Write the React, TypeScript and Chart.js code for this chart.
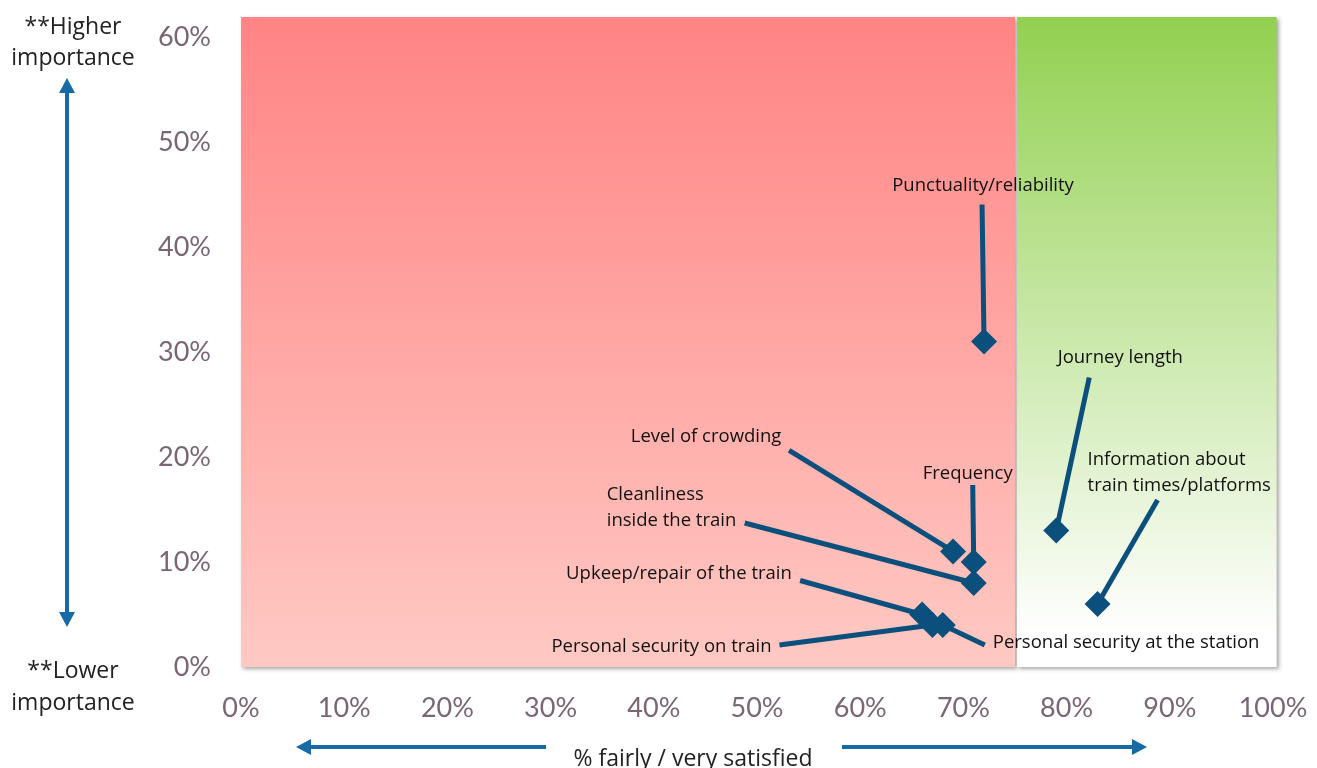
import React, { useEffect, useRef } from "react";
import { Chart, registerables } from "chart.js";

Chart.register(...registerables);

// ---------- data ----------
const itemNames: string[] = [
  "Punctuality/reliability",
  "Journey length",
  "Information about\ntrain times/platforms",
  "Level of crowding",
  "Frequency",
  "Cleanliness\ninside the train",
  "Upkeep/repair of the train",
  "Personal security on train",
  "Personal security at the station",
];
const satisfied: number[] = [0.72, 0.79, 0.83, 0.69, 0.71, 0.71, 0.66, 0.67, 0.68];
const importance: number[] = [0.31, 0.13, 0.06, 0.11, 0.1, 0.08, 0.05, 0.04, 0.04];
const xTickValues: number[] = [0, 0.1, 0.2, 0.3, 0.4, 0.5, 0.6, 0.7, 0.8, 0.9, 1.0];
const yTickValues: number[] = [0, 0.1, 0.2, 0.3, 0.4, 0.5, 0.6];
const xAxisTitle = "% fairly / very satisfied";
const yTopText = ["**Higher", "importance"];
const yBottomText = ["**Lower", "importance"];

// ---------- layout / style (not data) ----------
// label text offset (tx, ty) and leader-line start offset (lx, ly), pixels relative to the point
const labelLayout = [
  { tx: -1, ty: -156, align: "center", lx: -2, ly: -137 },
  { tx: 64, ty: -173, align: "center", lx: 33, ly: -153 },
  { tx: -10, ty: -144, align: "left", lx: 60, ly: -104 },
  { tx: -247, ty: -115, align: "center", lx: -164, ly: -101 },
  { tx: -6, ty: -88, align: "center", lx: -1, ly: -77 },
  { tx: -367, ty: -88, align: "left", lx: -229, ly: -60 },
  { tx: -356, ty: -41, align: "left", lx: -122, ly: -34 },
  { tx: -381, ty: 22, align: "left", lx: -153, ly: 20 },
  { tx: 50, ty: 18, align: "left", lx: 42, ly: 20 },
];
const zones = [
  { x0: 0, x1: 0.75, stops: [[0, "#FF8484"], [1, "#FFC9C3"]] },
  { x0: 0.752, x1: 1.0035, stops: [[0, "#92D050"], [0.95, "#FFFFFF"], [1, "#FFFFFF"]] },
];
const TICK_FONT = "Lato";
const TEXT_FONT = "'Open Sans'";
const MARK = "#0B4F7C";
const ARROW = "#166AA6";
const TICK = "#7B6574";

function arrowHead(ctx: CanvasRenderingContext2D, x: number, y: number, dx: number, dy: number) {
  const len = 15, half = 8;
  const bx = x - dx * len, by = y - dy * len;
  ctx.beginPath();
  ctx.moveTo(x, y);
  ctx.lineTo(bx - dy * half, by + dx * half);
  ctx.lineTo(bx + dy * half, by - dx * half);
  ctx.closePath();
  ctx.fill();
}

const decorPlugin = {
  id: "decor",
  beforeDatasetsDraw(chart: any) {
    const ctx: CanvasRenderingContext2D = chart.ctx;
    const xs = chart.scales.x;
    const top = chart.chartArea.top, bottom = chart.chartArea.bottom;
    zones.forEach((z) => {
      const l = xs.getPixelForValue(z.x0), r = xs.getPixelForValue(z.x1);
      const g = ctx.createLinearGradient(0, top, 0, bottom);
      z.stops.forEach((s: any) => g.addColorStop(s[0], s[1]));
      ctx.save();
      ctx.shadowColor = "rgba(0,0,0,0.35)";
      ctx.shadowBlur = 4;
      ctx.shadowOffsetX = 2;
      ctx.shadowOffsetY = 2;
      ctx.fillStyle = g;
      ctx.fillRect(l, top, r - l, bottom - top);
      ctx.restore();
    });
    const meta = chart.getDatasetMeta(0);
    ctx.save();
    ctx.strokeStyle = MARK;
    ctx.lineWidth = 5;
    meta.data.forEach((pt: any, i: number) => {
      const L = labelLayout[i];
      ctx.beginPath();
      ctx.moveTo(pt.x + L.lx, pt.y + L.ly);
      ctx.lineTo(pt.x, pt.y);
      ctx.stroke();
    });
    ctx.restore();
  },
  afterDatasetsDraw(chart: any) {
    const ctx: CanvasRenderingContext2D = chart.ctx;
    const meta = chart.getDatasetMeta(0);
    ctx.save();
    ctx.fillStyle = "#111111";
    ctx.font = `18.5px ${TEXT_FONT}`;
    ctx.textBaseline = "middle";
    meta.data.forEach((pt: any, i: number) => {
      const L = labelLayout[i];
      ctx.textAlign = L.align as CanvasTextAlign;
      itemNames[i].split("\n").forEach((line, k) => {
        ctx.fillText(line, pt.x + L.tx, pt.y + L.ty + k * 26);
      });
    });
    ctx.restore();
  },
  afterDraw(chart: any) {
    const ctx: CanvasRenderingContext2D = chart.ctx;
    const ca = chart.chartArea;
    ctx.save();
    ctx.fillStyle = "#222222";
    ctx.font = `23px ${TEXT_FONT}`;
    ctx.textAlign = "center";
    ctx.textBaseline = "middle";
    const lx = 73;
    ctx.fillText(yTopText[0], lx, ca.top + 10);
    ctx.fillText(yTopText[1], lx, ca.top + 41);
    ctx.fillText(yBottomText[0], lx, ca.bottom + 4);
    ctx.fillText(yBottomText[1], lx, ca.bottom + 36);
    ctx.strokeStyle = ARROW;
    ctx.fillStyle = ARROW;
    ctx.lineWidth = 4;
    const ax = 67, ay0 = ca.top + 61, ay1 = ca.bottom - 40;
    ctx.beginPath();
    ctx.moveTo(ax, ay0 + 10);
    ctx.lineTo(ax, ay1 - 10);
    ctx.stroke();
    arrowHead(ctx, ax, ay0, 0, -1);
    arrowHead(ctx, ax, ay1, 0, 1);
    const hy = ca.bottom + 80;
    const lt = 296, le = 546, rs = 842, rt = 1147;
    ctx.beginPath();
    ctx.moveTo(lt + 10, hy);
    ctx.lineTo(le, hy);
    ctx.moveTo(rs, hy);
    ctx.lineTo(rt - 10, hy);
    ctx.stroke();
    arrowHead(ctx, lt, hy, -1, 0);
    arrowHead(ctx, rt, hy, 1, 0);
    ctx.fillStyle = "#222222";
    ctx.font = `23px ${TEXT_FONT}`;
    ctx.textAlign = "center";
    ctx.textBaseline = "middle";
    ctx.fillText(xAxisTitle, 693, ca.bottom + 92);
    ctx.restore();
  },
};

export default function App() {
  const canvasRef = useRef<HTMLCanvasElement | null>(null);

  useEffect(() => {
    if (!canvasRef.current) return;
    const chart = new Chart(canvasRef.current, {
      type: "scatter",
      data: {
        datasets: [
          {
            label: "Items",
            data: satisfied.map((x, i) => ({ x, y: importance[i] })),
            pointStyle: "rectRot",
            pointRadius: 13,
            pointHoverRadius: 13,
            backgroundColor: MARK,
            borderColor: MARK,
            borderWidth: 0,
          },
        ],
      },
      options: {
        animation: false,
        responsive: true,
        maintainAspectRatio: false,
        events: [],
        layout: { padding: { left: 150, top: 17, right: 44, bottom: 0 } },
        plugins: { legend: { display: false }, tooltip: { enabled: false } },
        scales: {
          x: {
            type: "linear",
            min: 0,
            max: 1,
            grid: { display: false, drawTicks: false },
            border: { display: false },
            afterBuildTicks: (s: any) => {
              s.ticks = xTickValues.map((v) => ({ value: v }));
            },
            afterFit: (s: any) => {
              s.height = 101;
              s.paddingLeft = 0;
              s.paddingRight = 0;
            },
            ticks: {
              padding: 25,
              color: TICK,
              font: { family: TICK_FONT, size: 27 },
              callback: (v: any) => Math.round(Number(v) * 100) + "%",
            },
          },
          y: {
            type: "linear",
            min: 0,
            max: 0.619,
            grid: { display: false, drawTicks: false },
            border: { display: false },
            afterBuildTicks: (s: any) => {
              s.ticks = yTickValues.map((v) => ({ value: v }));
            },
            afterFit: (s: any) => {
              s.width = 91;
              s.paddingTop = 0;
              s.paddingBottom = 0;
            },
            ticks: {
              padding: 30,
              color: TICK,
              font: { family: TICK_FONT, size: 27 },
              callback: (v: any) => Math.round(Number(v) * 100) + "%",
            },
          },
        },
      },
      plugins: [decorPlugin],
    });
    return () => chart.destroy();
  }, []);

  return (
    <div style={{ position: "fixed", left: 0, top: 0, width: 1317, height: 768, background: "#fff" }}>
      <canvas ref={canvasRef} />
    </div>
  );
}
